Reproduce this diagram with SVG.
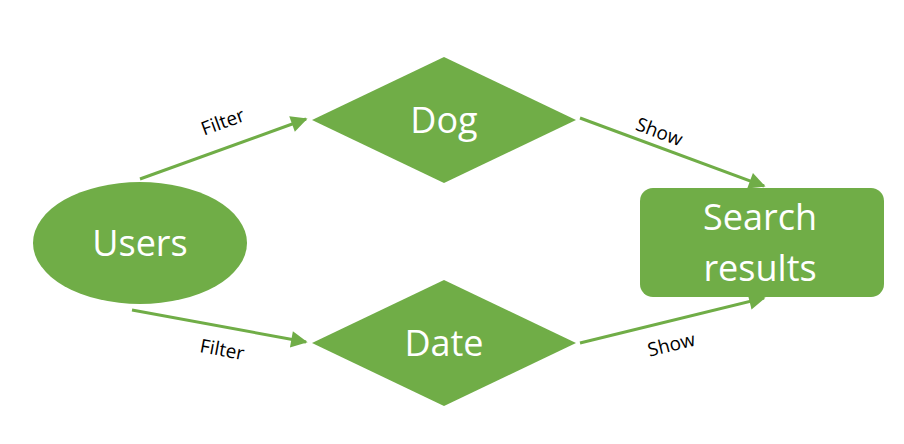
<svg xmlns="http://www.w3.org/2000/svg" width="904" height="444" viewBox="0 0 904 444">
<style>
.n{fill:#70AD47}
.t{fill:#fff;font-family:"Open Sans","Liberation Sans",sans-serif;font-size:36px;text-anchor:middle}
.l{fill:#000;font-family:"Open Sans","Liberation Sans",sans-serif;font-size:19px;text-anchor:middle}
.c{stroke:#70AD47;stroke-width:3;fill:none;marker-end:url(#a)}
</style>
<defs>
<marker id="a" viewBox="0 0 10 10" refX="9" refY="5" markerWidth="6.5" markerHeight="5.5" markerUnits="strokeWidth" orient="auto">
<path d="M0,0L10,5L0,10z" fill="#70AD47"/>
</marker>
</defs>
<rect width="904" height="444" fill="#fff"/>
<g id="connectors">
<line class="c" x1="140" y1="179" x2="306" y2="119"/>
<line class="c" x1="132" y1="310" x2="306" y2="342"/>
<line class="c" x1="580" y1="118" x2="764" y2="186"/>
<line class="c" x1="580" y1="343" x2="764" y2="298"/>
<text class="l" transform="translate(225,128) rotate(-20)">Filter</text>
<text class="l" transform="translate(221,356) rotate(10.5)">Filter</text>
<text class="l" transform="translate(657,138) rotate(20.4)">Show</text>
<text class="l" transform="translate(673,351) rotate(-13.8)">Show</text>
</g>
<g id="users">
<ellipse class="n" cx="140" cy="243" rx="107" ry="61"/>
<text class="t" x="140" y="256">Users</text>
</g>
<g id="dog">
<polygon class="n" points="312,120 444,57 576,120 444,183"/>
<text class="t" x="444" y="133">Dog</text>
</g>
<g id="date">
<polygon class="n" points="312,343 444,280 576,343 444,406"/>
<text class="t" x="444" y="356">Date</text>
</g>
<g id="search">
<rect class="n" x="640" y="188" width="244" height="109" rx="13"/>
<text class="t" x="760" y="230">Search</text>
<text class="t" x="760" y="281">results</text>
</g>
</svg>
